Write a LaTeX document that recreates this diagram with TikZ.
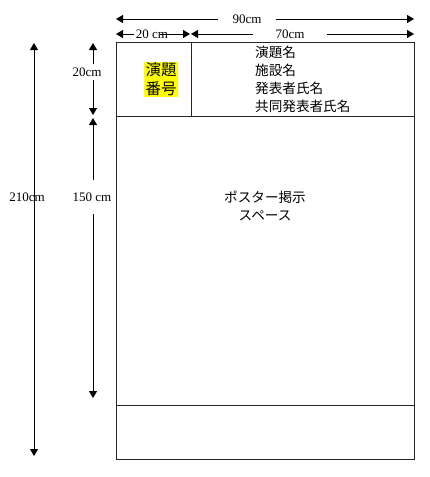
\documentclass[tikz,border=0pt]{standalone}
\usepackage{fontspec}
\setmainfont{Liberation Serif}
\newfontfamily\jp{Noto Sans CJK JP}
\usetikzlibrary{arrows.meta}
\definecolor{hl}{RGB}{255,255,0}
\begin{document}
\begin{tikzpicture}[x=1pt,y=-1pt,
  frame/.style={draw=black!85,line width=0.8pt},
  dim/.style={draw=black,line width=0.9pt,{Triangle[length=7pt,width=8pt]}-{Triangle[length=7pt,width=8pt]}},
  dimr/.style={draw=black,line width=0.9pt,-{Triangle[length=7pt,width=8pt]}},
  lbl/.style={font=\fontsize{13}{15}\selectfont,inner sep=0pt},
  jptext/.style={font=\jp\fontsize{13.6}{18}\selectfont,inner sep=0pt}]
\useasboundingbox (0,0) rectangle (429,477);
% frame
\coordinate (tl) at (116,42);
\coordinate (br) at (414,459);
\draw[frame] (tl) rectangle (br);
\coordinate (h1l) at (116,116); \coordinate (h1r) at (414,116);
\coordinate (h2l) at (116,405); \coordinate (h2r) at (414,405);
\coordinate (vt) at (191,42); \coordinate (vb) at (191,116);
\draw[frame] (h1l) -- (h1r);
\draw[frame] (h2l) -- (h2r);
\draw[frame] (vt) -- (vb);
% header texts
\node[font=\jp\fontsize{15.5}{19}\selectfont,fill=hl,inner xsep=1.5pt,inner ysep=1pt,align=center] (num) at (161,79.5) {演題\\番号};
\node[jptext,align=left,anchor=west] (title) at (255,79) {演題名\\施設名\\発表者氏名\\共同発表者氏名};
\node[jptext,align=center] (space) at (265,206) {ポスター掲示\\スペース};
% top dimension 90cm
\coordinate (d90l) at (116,19); \coordinate (d90r) at (414,19);
\draw[dim] (d90l) -- (d90r);
\node[lbl,fill=white,inner xsep=15pt,inner ysep=2pt] (t90) at (247,19) {90cm};
% 20cm top
\coordinate (d20l) at (116,34); \coordinate (d20r) at (190,34);
\node[lbl] (t20) at (152,34) {20 cm};
\coordinate (d20a) at (134,34); \coordinate (d20b) at (160,34);
\draw[dimr] (d20a) -- (d20l);
\draw[dimr] (d20b) -- (d20r);
% 70cm
\coordinate (d70l) at (191,34); \coordinate (d70r) at (414,34);
\draw[dim] (d70l) -- (d70r);
\node[lbl,fill=white,inner xsep=23pt,inner ysep=2pt] (t70) at (290,34) {70cm};
% left 210cm
\coordinate (d210t) at (34,43); \coordinate (d210b) at (34,456);
\draw[dim] (d210t) -- (d210b);
\node[lbl] (t210) at (27,197) {210cm};
% left 20cm
\coordinate (dl20t) at (93,43); \coordinate (dl20b) at (93,115);
\draw[dim] (dl20t) -- (dl20b);
\node[lbl,fill=white,inner xsep=1pt,inner ysep=4pt] (tl20) at (87,72) {20cm};
% left 150cm
\coordinate (d150t) at (93,118); \coordinate (d150b) at (93,398);
\draw[dim] (d150t) -- (d150b);
\node[lbl,fill=white,inner xsep=1pt,inner ysep=13pt] (t150) at (92,197) {150 cm};
\end{tikzpicture}
\end{document}
